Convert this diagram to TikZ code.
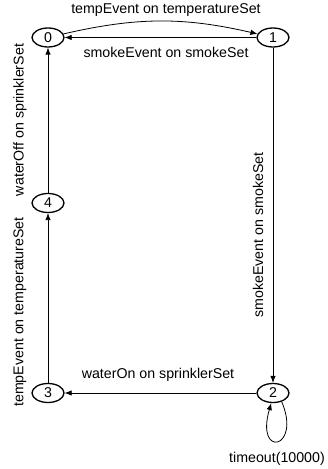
\documentclass[tikz,border=0pt]{standalone}
\usepackage{fontspec}
\setmainfont{Liberation Sans}
\usetikzlibrary{shapes.geometric,arrows.meta}
\begin{document}
\begin{tikzpicture}[x=1pt,y=1pt,
  state/.style={ellipse,draw,line width=1.3pt,minimum width=32pt,minimum height=19pt,inner sep=0pt,font=\fontsize{14.2}{17}\selectfont},
  lbl/.style={font=\fontsize{14.2}{17}\selectfont,inner sep=0pt},
  edge/.style={draw,line width=0.8pt,-{Latex[length=7pt,width=5.5pt]}}]
\useasboundingbox (0,0) rectangle (328,469);
\node[state] (n0) at (48,431.5) {0};
\node[state] (n1) at (273,431.5) {1};
\node[state] (n4) at (48,266) {4};
\node[state] (n3) at (48,76) {3};
\node[state] (n2) at (273,76) {2};
\path[edge] (n0) to[bend left=13] (n1);
\path[edge] (n1) -- (n0);
\path[edge] (n1) -- (n2);
\path[edge] (n2) -- (n3);
\path[edge] (n3) -- (n4);
\path[edge] (n4) -- (n0);
\path[edge] (n2.-45) .. controls (302,20) and (255,10) .. (n2.-100);
\node[lbl] (l01) at (166,459) {tempEvent on temperatureSet};
\node[lbl] (l10) at (166,417) {smokeEvent on smokeSet};
\node[lbl,rotate=90] (l12) at (258,234) {smokeEvent on smokeSet};
\node[lbl] (l23) at (158,94) {waterOn on sprinklerSet};
\node[lbl,rotate=90] (l34) at (20,157) {tempEvent on temperatureSet};
\node[lbl,rotate=90] (l40) at (20,349) {waterOff on sprinklerSet};
\node[lbl] (l22) at (277,10) {timeout(10000)};
\end{tikzpicture}
\end{document}
